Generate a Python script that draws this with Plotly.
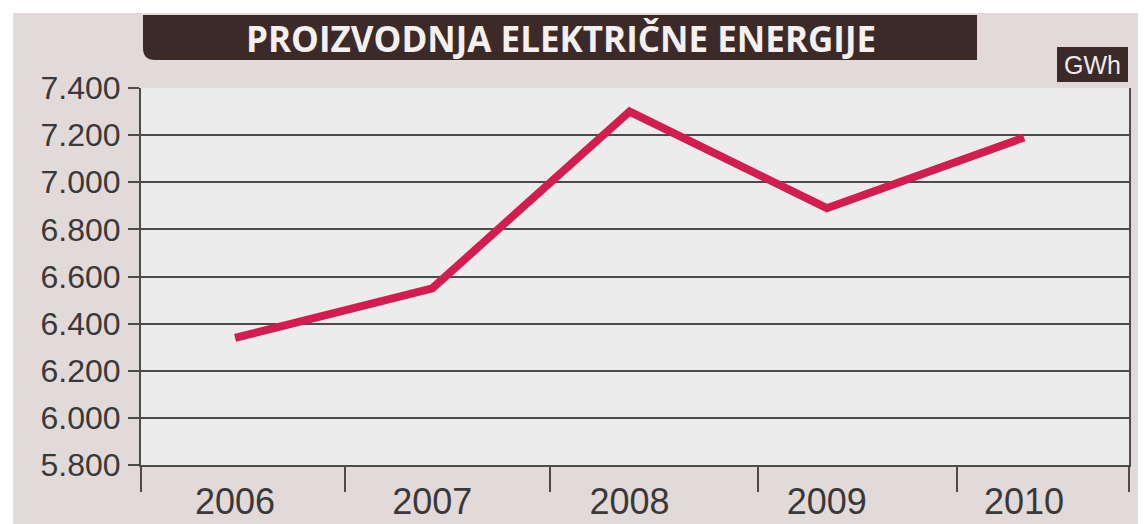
import plotly.graph_objects as go

# production of electric energy, GWh
years = [2006, 2007, 2008, 2009, 2010]
production = [6340, 6550, 7300, 6890, 7190]

year_labels = ["2006", "2007", "2008", "2009", "2010"]
# separators between the year columns (incl. the two frame edges)
dividers = [2005.524, 2006.558, 2007.597, 2008.65, 2009.66, 2010.531]

title_text = "PROIZVODNJA ELEKTRIČNE ENERGIJE"
unit_text = "GWh"

LINE = "#d21d4e"
GRID = "#4d4a4a"
DARK = "#3c2a28"
PANEL = "#e2dad8"
TXT = "#3a3838"

fig = go.Figure()
fig.add_trace(go.Scatter(
    x=years, y=production, mode="lines",
    line=dict(color=LINE, width=8), hoverinfo="x+y", showlegend=False,
))

# page body adds an 8px margin, so the figure is 8px smaller than the window
OFF = 8
W, H = 1146 - OFF, 524 - OFF
# plot area in window px: 141..1129 x 88..465
ml, mr, mt, mb = 141 - OFF, 17, 88 - OFF, 59
pw, ph = W - ml - mr, H - mt - mb


def px_x(v):
    return (v - OFF - ml) / pw


def px_y(v):
    return 1 - (v - OFF - mt) / ph


shapes = [
    # white strips at top and left of the beige panel
    dict(type="rect", xref="paper", yref="paper", layer="below",
         x0=px_x(0), x1=px_x(W + 20), y0=px_y(13), y1=px_y(0),
         fillcolor="white", line=dict(width=0)),
    dict(type="rect", xref="paper", yref="paper", layer="below",
         x0=px_x(0), x1=px_x(13), y0=px_y(H + 20), y1=px_y(0),
         fillcolor="white", line=dict(width=0)),
]

# title box with rounded bottom-left corner
x0, x1, y0, y1 = px_x(143), px_x(977), px_y(60), px_y(15)
rx, ry = 12 / pw, 12 / ph
shapes.append(dict(
    type="path", xref="paper", yref="paper", layer="above",
    path=(f"M {x0},{y1} L {x1},{y1} L {x1},{y0} L {x0 + rx},{y0} "
          f"Q {x0},{y0} {x0},{y0 + ry} Z"),
    fillcolor=DARK, line=dict(width=0),
))
# unit box
shapes.append(dict(
    type="rect", xref="paper", yref="paper", layer="above",
    x0=px_x(1057), x1=px_x(1128), y0=px_y(82), y1=px_y(47),
    fillcolor=DARK, line=dict(width=0),
))

annotations = [
    dict(text=f"<b>{title_text}</b>", xref="paper", yref="paper",
         x=px_x(561), y=px_y(38), xanchor="center", yanchor="middle",
         showarrow=False,
         font=dict(family="Open Sans", size=35, color="#f4f0ef")),
    dict(text=unit_text, xref="paper", yref="paper",
         x=px_x(1092), y=px_y(65), xanchor="center", yanchor="middle",
         showarrow=False,
         font=dict(family="Liberation Sans", size=25, color="#efeaea")),
]

fig.update_layout(
    width=W, height=H,
    margin=dict(l=ml, r=mr, t=mt, b=mb, pad=0, autoexpand=False),
    paper_bgcolor=PANEL,
    plot_bgcolor="#ececec",
    separators=",.",
    shapes=shapes,
    annotations=annotations,
    font=dict(family="Liberation Sans, Arial, sans-serif", color=TXT),
    xaxis=dict(
        range=[2005.523, 2010.532], automargin=False,
        tickvals=years, ticktext=year_labels,
        ticks="outside", ticklen=4, tickcolor="rgba(0,0,0,0)",
        tickfont=dict(size=36, color=TXT),
        showgrid=False, zeroline=False,
        showline=True, linecolor=GRID, linewidth=2,
        minor=dict(tickvals=dividers, ticks="outside", ticklen=25,
                   tickwidth=2, tickcolor=GRID, showgrid=False),
    ),
    yaxis=dict(
        range=[5800, 7400], dtick=200, tickformat=",.0f", automargin=False,
        ticks="outside", ticklen=11, tickwidth=2, tickcolor=GRID,
        ticklabelstandoff=1,
        tickfont=dict(size=32, color=TXT),
        showgrid=True, gridcolor=GRID, gridwidth=2,
        zeroline=False,
        showline=True, linecolor=GRID, linewidth=2, mirror=True,
    ),
)

fig.write_html("out.html")
